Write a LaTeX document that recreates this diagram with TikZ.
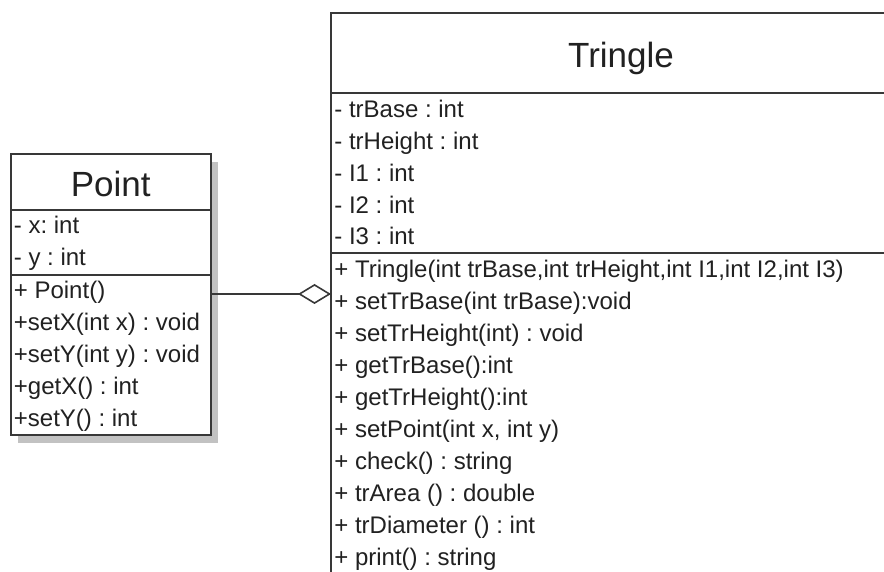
\documentclass[tikz,border=0pt]{standalone}
\usepackage{fontspec}
\setmainfont{Liberation Sans}
\usetikzlibrary{positioning,arrows.meta,backgrounds}
\frenchspacing

\definecolor{umlline}{gray}{0.22}
\definecolor{umltext}{gray}{0.13}
\definecolor{umlshadow}{gray}{0.76}

\tikzset{
  classbox/.style={draw=umlline, line width=1pt, fill=white,
    inner sep=0pt, outer sep=0pt},
  classname/.style={font=\fontsize{17.5}{21}\selectfont, text=umltext,
    anchor=base, inner sep=0pt},
  member/.style={font=\fontsize{12}{14}\selectfont, text=umltext,
    anchor=base west, inner sep=0pt},
  aggregation/.style={draw=umlline, line width=0.8pt,
    {Diamond[open, length=16.5pt, width=10pt, line width=0.8pt]}-},
}

\begin{document}
\begin{tikzpicture}[x=1pt,y=1pt]
  \useasboundingbox (0,0) rectangle (442,286);
  \clip (0,0) rectangle (442,286);

  %Point class
  \node[classbox, anchor=north west, minimum width=100.25pt, minimum height=28pt]
    (pointName) at (5.25,209) {};
  \node[classbox, below right=0pt of pointName.south west,
    minimum width=100.25pt, minimum height=32.5pt] (pointAttrs) {};
  \node[classbox, below right=0pt of pointAttrs.south west,
    minimum width=100.25pt, minimum height=80pt] (pointOps) {};
  \begin{scope}[on background layer]
    \fill[umlshadow] ([shift={(3.5pt,-4pt)}]pointName.north west)
      rectangle ([shift={(3.5pt,-4pt)}]pointOps.south east);
  \end{scope}

  \node[classname] (pointTitle) at ([yshift=-7.5pt]pointName.center) {Point};
  \foreach \txt [count=\i] in {{- x: int}, {- y : int}}
    \node[member] (pointAttr\i) at ([xshift=1.5pt,yshift=-12pt-(\i-1)*15.6pt]pointAttrs.north west) {\txt};
  \foreach \txt [count=\i] in {{+ Point()}, {+setX(int x) : void},
      {+setY(int y) : void}, {+getX() : int}, {+setY() : int}}
    \node[member] (pointOp\i) at ([xshift=1.5pt,yshift=-12pt-(\i-1)*16pt]pointOps.north west) {\txt};

  %Tringle class
  \node[classbox, anchor=north west, minimum width=290pt, minimum height=40pt]
    (tringleName) at (165.5,279.5) {};
  \node[classbox, below right=0pt of tringleName.south west,
    minimum width=290pt, minimum height=80pt] (tringleAttrs) {};
  \node[classbox, below right=0pt of tringleAttrs.south west,
    minimum width=290pt, minimum height=185pt] (tringleOps) {};

  \node[classname] (tringleTitle) at ([yshift=-7.5pt]tringleName.center) {Tringle};
  \foreach \txt [count=\i] in {{- trBase : int}, {- trHeight : int},
      {- I1 : int}, {- I2 : int}, {- I3 : int}}
    \node[member] (tringleAttr\i) at ([xshift=1.5pt,yshift=-12.4pt-(\i-1)*15.9pt]tringleAttrs.north west) {\txt};
  \foreach \txt [count=\i] in {{+ Tringle(int trBase,int trHeight,int I1,int I2,int I3)},
      {+ setTrBase(int trBase):void}, {+ setTrHeight(int) : void},
      {+ getTrBase():int}, {+ getTrHeight():int}, {+ setPoint(int x, int y)},
      {+ check() : string}, {+ trArea () : double}, {+ trDiameter () : int},
      {+ print() : string}}
    \node[member] (tringleOp\i) at ([xshift=1.5pt,yshift=-12.4pt-(\i-1)*16pt]tringleOps.north west) {\txt};

  %aggregation
  \coordinate (agg) at (tringleOps.west |- 0,139);
  \draw[aggregation] (agg) -- (agg -| pointOps.east);
\end{tikzpicture}
\end{document}
